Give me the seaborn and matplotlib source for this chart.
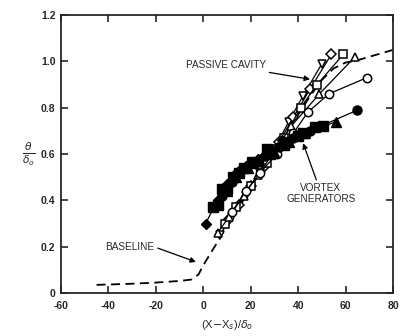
import matplotlib
matplotlib.use("Agg")
import matplotlib.pyplot as plt
import seaborn as sns

# Baseline (no control) boundary-layer growth
baseline_x = [-45, -30, -20, -10, -5, -2, 0, 3, 6, 10, 15, 20, 25, 30, 35, 40, 45, 50, 55, 60, 65, 70, 80]
baseline_y = [0.035, 0.040, 0.045, 0.052, 0.058, 0.08, 0.12, 0.17, 0.22, 0.29, 0.37, 0.45, 0.53, 0.61, 0.69, 0.77, 0.85, 0.92, 0.97, 0.995, 1.005, 1.02, 1.05]

# Passive cavity configurations (open symbols)
pc_tri_down_x = [7, 12, 18, 24, 30, 36, 42, 50]
pc_tri_down_y = [0.25, 0.33, 0.42, 0.52, 0.62, 0.74, 0.85, 0.99]
pc_diamond_x = [10, 15, 20, 26, 32, 38, 45, 54]
pc_diamond_y = [0.31, 0.38, 0.46, 0.55, 0.65, 0.76, 0.88, 1.03]
pc_square_x = [9, 14, 20, 27, 34, 41, 48, 59]
pc_square_y = [0.30, 0.37, 0.46, 0.56, 0.67, 0.80, 0.90, 1.03]
pc_tri_up_x = [6, 11, 17, 23, 30, 37, 49, 64]
pc_tri_up_y = [0.26, 0.33, 0.42, 0.51, 0.61, 0.72, 0.86, 1.02]
pc_circle_x = [12, 18, 24, 31, 38, 44, 53, 69]
pc_circle_y = [0.35, 0.44, 0.52, 0.60, 0.69, 0.78, 0.86, 0.93]

# Vortex generator configurations (filled symbols)
vg_diamond_x = [1, 6, 10, 14, 18, 23, 28, 33]
vg_diamond_y = [0.30, 0.40, 0.47, 0.52, 0.55, 0.58, 0.62, 0.66]
vg_square_x = [4, 8, 12.5, 17, 20.5, 27, 34, 40, 47]
vg_square_y = [0.37, 0.45, 0.50, 0.54, 0.565, 0.62, 0.64, 0.68, 0.715]
vg_circle_x = [8, 12, 16, 21, 26, 32, 38, 45, 65]
vg_circle_y = [0.42, 0.48, 0.53, 0.56, 0.59, 0.63, 0.67, 0.70, 0.79]
vg_tri_x = [10, 14, 19, 24, 30, 36, 43, 56]
vg_tri_y = [0.44, 0.50, 0.54, 0.57, 0.61, 0.65, 0.69, 0.74]
vg_square2_x = [6, 10, 15, 21, 28, 35, 42, 50.5]
vg_square2_y = [0.38, 0.45, 0.52, 0.56, 0.60, 0.65, 0.69, 0.72]

x_ticks = [-60, -40, -20, 0, 20, 40, 60, 80]
x_tick_labels = ["-60", "-40", "-20", "0", "20", "40", "60", "80"]
y_ticks = [0, 0.2, 0.4, 0.6, 0.8, 1.0, 1.2]
y_tick_labels = ["0", "0.2", "0.4", "0.6", "0.8", "1.0", "1.2"]

sns.set_style("ticks")
plt.rcParams["font.family"] = ["Liberation Sans", "DejaVu Sans"]
plt.rcParams["mathtext.fontset"] = "dejavusans"

fig = plt.figure(figsize=(4.02, 3.36), dpi=100)
ax = fig.add_axes([0.1517, 0.128, 0.8259, 0.827])

sns.lineplot(x=baseline_x, y=baseline_y, ax=ax, color="black", lw=1.3,
             linestyle=(0, (5, 3)), estimator=None, sort=False)

open_series = [
    (pc_tri_down_x, pc_tri_down_y, "v"),
    (pc_diamond_x, pc_diamond_y, "D"),
    (pc_square_x, pc_square_y, "s"),
    (pc_tri_up_x, pc_tri_up_y, "^"),
    (pc_circle_x, pc_circle_y, "o"),
]
for xs, ys, m in open_series:
    sns.lineplot(x=xs, y=ys, ax=ax, color="black", lw=0.9, marker=m,
                 markersize=6 if m != "D" else 5, markerfacecolor="white",
                 markeredgecolor="black", markeredgewidth=1.1,
                 estimator=None, sort=False)

filled_series = [
    (vg_diamond_x, vg_diamond_y, "D"),
    (vg_square_x, vg_square_y, "s"),
    (vg_circle_x, vg_circle_y, "o"),
    (vg_tri_x, vg_tri_y, "^"),
    (vg_square2_x, vg_square2_y, "s"),
]
for xs, ys, m in filled_series:
    sns.lineplot(x=xs, y=ys, ax=ax, color="black", lw=0.9, marker=m,
                 markersize=6.5 if m != "D" else 5.5, markerfacecolor="black",
                 markeredgecolor="black", markeredgewidth=1.0,
                 estimator=None, sort=False)

ax.set_xlim(-60, 80)
ax.set_ylim(0, 1.2)
ax.set_xticks(x_ticks)
ax.set_xticklabels(x_tick_labels)
ax.set_yticks(y_ticks)
ax.set_yticklabels(y_tick_labels)
ax.tick_params(direction="in", length=5, width=1.2, top=True, right=True,
               labelsize=7.5)
ax.tick_params(axis="x", pad=6)
ax.tick_params(axis="y", pad=4)
for lbl in ax.get_xticklabels() + ax.get_yticklabels():
    lbl.set_fontweight("bold")
for sp in ax.spines.values():
    sp.set_linewidth(1.3)
    sp.set_visible(True)

ax.set_xlabel(r"(X$-$X$_s$)/$\delta_o$", fontsize=8, labelpad=5)
ax.set_ylabel(r"$\frac{\theta}{\delta_o}$", fontsize=11, rotation=0,
              labelpad=9, va="center")

arrow = dict(arrowstyle="-|>", color="black", lw=0.9, mutation_scale=8,
             shrinkA=0, shrinkB=0)
ax.annotate("PASSIVE CAVITY", xy=(45, 0.923), xytext=(9.6, 0.984),
            ha="center", va="center", fontsize=7.2, arrowprops=arrow)
ax.annotate("VORTEX\nGENERATORS", xy=(42.1, 0.647), xytext=(49.6, 0.43),
            ha="center", va="center", fontsize=7.2, linespacing=1.1,
            arrowprops=dict(arrow, relpos=(0.45, 1.0)))
ax.annotate("BASELINE", xy=(-3.1, 0.134), xytext=(-30.9, 0.199),
            ha="center", va="center", fontsize=7.2,
            arrowprops=dict(arrow, relpos=(1.0, 0.5)))

fig.savefig("out.png", dpi=100)
